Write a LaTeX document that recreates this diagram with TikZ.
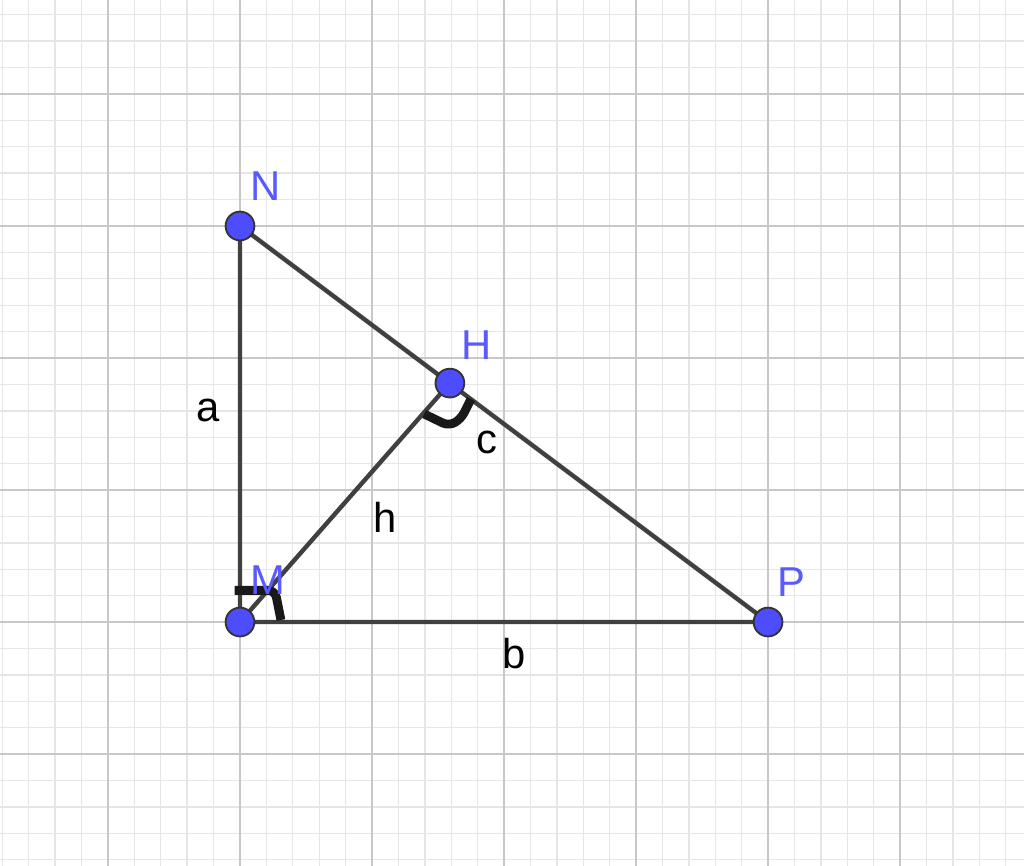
\documentclass[tikz,border=0pt]{standalone}
\usepackage{fontspec}
\setmainfont{Liberation Sans}
\definecolor{ptblue}{RGB}{77,77,255}
\definecolor{lblblue}{RGB}{90,90,255}
\definecolor{segcol}{RGB}{64,64,64}
\definecolor{majorgrid}{RGB}{200,200,200}
\definecolor{minorgrid}{RGB}{230,230,230}
\begin{document}
\begin{tikzpicture}[
	pt/.style={circle, fill=ptblue, draw=black!80, line width=0.4pt, inner sep=0pt, minimum size=6.2pt},
	ptlabel/.style={lblblue, font=\fontsize{9}{11}\selectfont},
	seglabel/.style={black, font=\fontsize{9}{11}\selectfont},
	seg/.style={segcol, line width=0.95pt},
	rightmark/.style={black!90, line width=1.9pt, line join=round, rounded corners=1.5pt}]
		\useasboundingbox (-1.818,-1.848) rectangle (5.939,4.712);
		\fill[white] (-1.818,-1.848) rectangle (5.939,4.712);
		% grid
		\draw[minorgrid, line width=0.3pt, step=0.2] (-1.818,-1.848) grid (5.939,4.712);
		\draw[majorgrid, line width=0.5pt, step=1] (-1.818,-1.848) grid (5.939,4.712);
		% points
		\coordinate (M) at (0,0);
		\coordinate (N) at (0,3);
		\coordinate (P) at (4,0);
		\coordinate (H) at (1.59,1.81);
		\draw[seg] (N) -- (M) -- (P) -- (N);
		\draw[seg] (M) -- (H);
		% right angle marks
		\draw[rightmark] (-0.04,0.24) -- (0.265,0.24) -- (0.31,0.015);
		\draw[rightmark] (1.395,1.576) -- (1.583,1.485) -- (1.674,1.538) -- (1.75,1.689);
		\node[pt] (Mpt) at (M){};
		\node[pt] (Npt) at (N){};
		\node[pt] (Ppt) at (P){};
		\node[pt] (Hpt) at (H){};
		% labels
		\node[ptlabel] (Nlbl) at (0.19,3.30){N};
		\node[ptlabel] (Hlbl) at (1.795,2.10){H};
		\node[ptlabel] (Plbl) at (4.18,0.30){P};
		\node[ptlabel] (Mlbl) at (0.21,0.32){M};
		\node[seglabel] (albl) at (-0.24,1.60){a};
		\node[seglabel] (hlbl) at (1.10,0.79){h};
		\node[seglabel] (clbl) at (1.87,1.36){c};
		\node[seglabel] (blbl) at (2.08,-0.24){b};
	\end{tikzpicture}
\end{document}
